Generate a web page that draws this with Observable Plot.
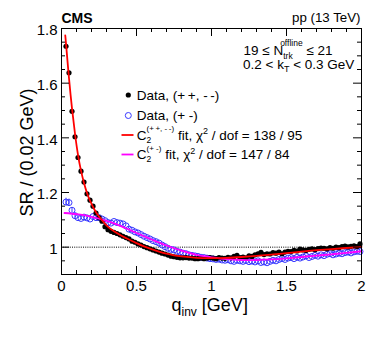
<!DOCTYPE html>
<html><head><meta charset="utf-8">
<script src="https://cdn.jsdelivr.net/npm/d3@7"></script>
<script src="https://cdn.jsdelivr.net/npm/@observablehq/plot@0.6"></script>
<style>body{margin:0;background:#fff;} svg{display:block;}</style>
</head><body><div id="chart"></div>
<script>
// bin centres, q_inv [GeV]
const q = [0.03,0.05,0.07,0.09,0.11,0.13,0.15,0.17,0.19,0.21,0.23,0.25,0.27,0.29,0.31,0.33,0.35,0.37,0.39,0.41,
0.43,0.45,0.47,0.49,0.51,0.53,0.55,0.57,0.59,0.61,0.63,0.65,0.67,0.69,0.71,0.73,0.75,0.77,0.79,0.81,
0.83,0.85,0.87,0.89,0.91,0.93,0.95,0.97,0.99,1.01,1.03,1.05,1.07,1.09,1.11,1.13,1.15,1.17,1.19,1.21,
1.23,1.25,1.27,1.29,1.31,1.33,1.35,1.37,1.39,1.41,1.43,1.45,1.47,1.49,1.51,1.53,1.55,1.57,1.59,1.61,
1.63,1.65,1.67,1.69,1.71,1.73,1.75,1.77,1.79,1.81,1.83,1.85,1.87,1.89,1.91,1.93,1.95,1.97,1.99];
// Data (+ +, - -)
const srSame = [1.735,1.638,1.497,1.404,1.328,1.278,1.238,1.195,1.172,1.150,1.125,1.108,1.095,1.075,1.064,1.058,1.054,1.050,1.045,1.040,
1.035,1.030,1.022,1.018,1.012,1.008,1.002,0.998,0.994,0.990,0.986,0.982,0.978,0.975,0.971,0.967,0.965,0.963,0.961,0.961,
0.962,0.960,0.960,0.958,0.958,0.960,0.958,0.960,0.962,0.960,0.958,0.962,0.960,0.959,0.963,0.961,0.966,0.970,0.962,0.964,
0.961,0.968,0.966,0.972,0.976,0.981,0.973,0.976,0.975,0.980,0.978,0.982,0.976,0.982,0.985,0.984,0.988,0.986,0.993,0.990,
0.988,0.992,0.994,0.991,0.995,0.997,0.996,0.994,0.998,0.996,1.000,0.998,1.002,1.004,1.001,1.003,1.005,1.002,1.012];
// Data (+ -)
const srOpp = [1.165,1.163,1.135,1.115,1.108,1.105,1.110,1.107,1.103,1.112,1.108,1.108,1.103,1.097,1.090,1.088,1.094,1.090,1.088,1.085,
1.078,1.066,1.062,1.056,1.052,1.046,1.040,1.035,1.030,1.024,1.020,1.015,1.008,1.002,0.996,0.992,0.990,0.985,0.982,0.978,
0.976,0.972,0.970,0.968,0.966,0.963,0.962,0.960,0.958,0.957,0.955,0.956,0.953,0.952,0.954,0.950,0.948,0.952,0.950,0.948,
0.951,0.947,0.949,0.946,0.950,0.944,0.946,0.943,0.948,0.952,0.950,0.955,0.958,0.955,0.960,0.962,0.958,0.963,0.960,0.964,
0.968,0.962,0.966,0.970,0.967,0.972,0.969,0.974,0.976,0.972,0.975,0.978,0.976,0.980,0.982,0.979,0.983,0.985,0.984];
// visible error bars on (+ -) at low q
const errQ = [0.03,0.05,0.07,0.09];
const errOpp = [0.014,0.013,0.010,0.009];
// fit curves
const fitSameQ = [0.025,0.03,0.05,0.07,0.09,0.11,0.13,0.15,0.17,0.19,0.22,0.25,0.30,0.35,0.40,0.45,0.50,0.55,0.60,0.65,0.70,0.75,0.80,0.90,1.00,1.10,1.20,1.30,1.40,1.50,1.60,1.70,1.80,1.90,2.00];
const fitSame = [1.775,1.745,1.618,1.508,1.415,1.338,1.280,1.235,1.198,1.170,1.137,1.112,1.080,1.058,1.042,1.028,1.015,1.003,0.993,0.984,0.976,0.970,0.966,0.961,0.960,0.961,0.964,0.968,0.973,0.978,0.984,0.989,0.993,0.997,1.001];
const fitOppQ = [0.02,0.10,0.15,0.20,0.25,0.30,0.35,0.40,0.45,0.50,0.55,0.60,0.65,0.70,0.75,0.80,0.85,0.90,0.95,1.00,1.10,1.20,1.30,1.40,1.50,1.60,1.70,1.80,1.90,2.00];
const fitOpp = [1.125,1.121,1.117,1.111,1.104,1.096,1.087,1.076,1.064,1.052,1.040,1.028,1.017,1.006,0.996,0.987,0.979,0.972,0.967,0.963,0.956,0.953,0.953,0.955,0.959,0.964,0.969,0.974,0.979,0.985];
// ticks
const xMajor = [0,0.5,1,1.5,2];
const xMajorLabels = ["0","0.5","1","1.5","2"];
const xMinor = [0.1,0.2,0.3,0.4,0.6,0.7,0.8,0.9,1.1,1.2,1.3,1.4,1.6,1.7,1.8,1.9];
const yMajor = [1,1.2,1.4,1.6,1.8];
const yMajorLabels = ["1","1.2","1.4","1.6","1.8"];
const yMinor = [0.95,1.05,1.1,1.15,1.25,1.3,1.35,1.45,1.5,1.55,1.65,1.7,1.75];

const sameRows = q.map((x,i)=>({q:x, v:srSame[i]}));
const oppRows = q.map((x,i)=>({q:x, v:srOpp[i]}));
const errRows = errQ.map((x,i)=>({q:x, lo:srOpp[i]-errOpp[i], hi:srOpp[i]+errOpp[i]}));
const fitSameRows = fitSameQ.map((x,i)=>({q:x, v:fitSame[i]}));
const fitOppRows = fitOppQ.map((x,i)=>({q:x, v:fitOpp[i]}));

const W=374, H=338, mL=61, mR=13, mT=28, mB=64;
const fw = W-mL-mR, fh = H-mT-mB;
const font = "'Liberation Sans', Arial, Helvetica, sans-serif";
const blue = "#3a3aff";

const svgEl = Plot.plot({
  width: W, height: H, marginLeft: mL, marginRight: mR, marginTop: mT, marginBottom: mB,
  style: {fontFamily: font, background: "#fff", overflow: "visible", color: "#000"},
  x: {domain:[0,2], axis:null},
  y: {domain:[0.9,1.8], axis:null},
  marks: [
    Plot.ruleY([1], {y: d=>d, stroke:"#000", strokeDasharray:"1,1.2", strokeWidth:1}),
    Plot.ruleX(errRows, {x:"q", y1:"lo", y2:"hi", stroke: blue, strokeWidth:1}),
    Plot.dot(oppRows, {x:"q", y:"v", r:3, stroke: blue, fill:"none", strokeWidth:1}),
    Plot.dot(sameRows, {x:"q", y:"v", r:2.6, fill:"#000", stroke:"none"}),
    Plot.line(fitOppRows, {x:"q", y:"v", stroke:"#ff00ff", strokeWidth:1.8, curve:"natural"}),
    Plot.line(fitSameRows, {x:"q", y:"v", stroke:"#ff0000", strokeWidth:1.8, curve:"natural"}),
    Plot.tickX(xMajor, {x:d=>d, insetTop: fh-8, stroke:"#000"}),
    Plot.tickX(xMajor, {x:d=>d, insetBottom: fh-8, stroke:"#000"}),
    Plot.tickX(xMinor, {x:d=>d, insetTop: fh-4, stroke:"#000"}),
    Plot.tickX(xMinor, {x:d=>d, insetBottom: fh-4, stroke:"#000"}),
    Plot.tickY(yMajor, {y:d=>d, insetRight: fw-8, stroke:"#000"}),
    Plot.tickY(yMajor, {y:d=>d, insetLeft: fw-8, stroke:"#000"}),
    Plot.tickY(yMinor, {y:d=>d, insetRight: fw-4, stroke:"#000"}),
    Plot.tickY(yMinor, {y:d=>d, insetLeft: fw-4, stroke:"#000"}),
    Plot.frame({stroke:"#000"}),
    Plot.text(xMajor, {x:d=>d, text:(d,i)=>xMajorLabels[i], frameAnchor:"bottom", lineAnchor:"top", dy:6, fontSize:15, fill:"#000"}),
    Plot.text(yMajor, {y:d=>d, text:(d,i)=>yMajorLabels[i], frameAnchor:"left", textAnchor:"end", dx:-4, dy:2, fontSize:15, fill:"#000"})
  ]
});
document.getElementById("chart").appendChild(svgEl);

const svg = d3.select(svgEl);
const g = svg.append("g").attr("font-family", font).attr("fill", "#000").attr("text-anchor", "start");

// CMS and energy
g.append("text").attr("x", 61.5).attr("y", 23).attr("font-size", 14).attr("font-weight", "bold").text("CMS");
g.append("text").attr("x", 360.5).attr("y", 21.5).attr("font-size", 13.3).attr("text-anchor", "end").text("pp (13 TeV)");

// axis titles
g.append("text").attr("transform", "translate(33,152.5) rotate(-90)").attr("text-anchor", "middle")
  .attr("font-size", 18).text("SR / (0.02 GeV)");
const xt = g.append("text").attr("x", 171.5).attr("y", 311).attr("font-size", 18);
xt.append("tspan").text("q");
xt.append("tspan").attr("font-size", 12).attr("dy", 5).text("inv");
xt.append("tspan").attr("dy", -5).text(" [GeV]");

// selection text
const t1 = g.append("text").attr("x", 243.5).attr("y", 55).attr("font-size", 13.5);
t1.append("tspan").text("19 \u2264 N");
t1.append("tspan").attr("font-size", 8.5).attr("dy", 3.5).text("trk");
t1.append("tspan").attr("font-size", 8.5).attr("dx", -12.5).attr("dy", -12.5).text("offline");
t1.append("tspan").attr("dy", 9).text(" \u2264 21");
const t2 = g.append("text").attr("x", 243).attr("y", 68.5).attr("font-size", 13.5);
t2.append("tspan").text("0.2 < k");
t2.append("tspan").attr("font-size", 9).attr("dy", 3.5).text("T");
t2.append("tspan").attr("dy", -3.5).text(" < 0.3 GeV");

// legend
const lx = 128.3, tx = 136.7;
const rows = [95, 115.5, 135, 154.5];
g.append("circle").attr("cx", lx).attr("cy", rows[0]).attr("r", 2.6).attr("fill", "#000");
g.append("text").attr("x", tx).attr("y", rows[0]+4.7).attr("font-size", 13.5).text("Data, (+\u2009+, -\u2009-)");
g.append("circle").attr("cx", lx).attr("cy", rows[1]).attr("r", 3).attr("fill", "none").attr("stroke", blue);
g.append("text").attr("x", tx).attr("y", rows[1]+4.7).attr("font-size", 13.5).text("Data, (+ -)");
function fitEntry(y, color, sup, chi) {
  g.append("line").attr("x1", 121.5).attr("x2", 133.5).attr("y1", y).attr("y2", y).attr("stroke", color).attr("stroke-width", 1.8);
  const t = g.append("text").attr("x", tx).attr("y", y+4.7).attr("font-size", 13.5);
  t.append("tspan").text("C");
  t.append("tspan").attr("font-size", 8.5).attr("dy", 3).text("2");
  t.append("tspan").attr("font-size", 8).attr("dx", -4.7).attr("dy", -11.5).text(sup);
  t.append("tspan").attr("dy", 8.5).text(" fit, \u03c7");
  t.append("tspan").attr("font-size", 9).attr("dy", -5.5).text("2");
  t.append("tspan").attr("dy", 5.5).text(" / dof = " + chi);
}
fitEntry(rows[2], "#ff0000", "(+\u2009+, -\u2009-)", "138 / 95");
fitEntry(rows[3], "#ff00ff", "(+ -)", "147 / 84");
</script>
</body></html>
